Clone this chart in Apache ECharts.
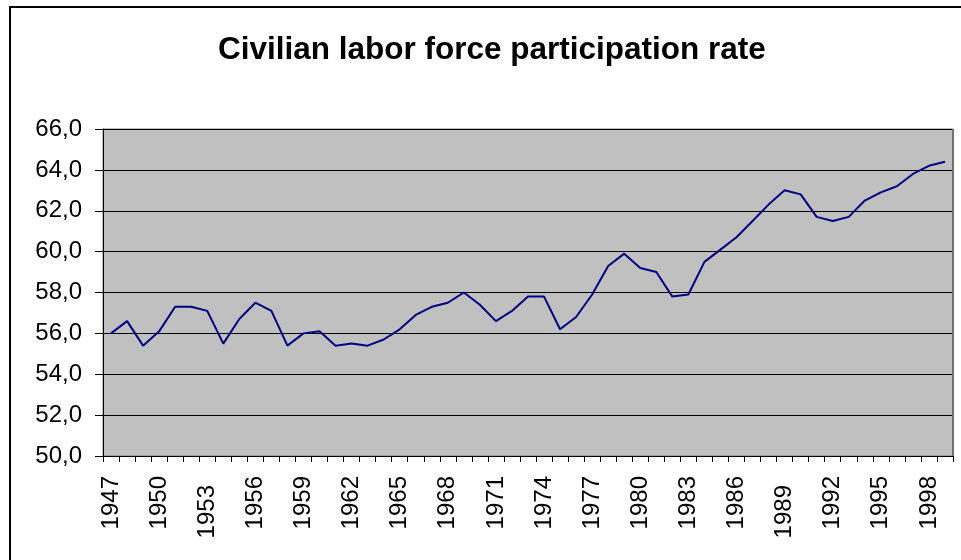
<!DOCTYPE html>
<html>
<head>
<meta charset="UTF-8">
<title>Civilian labor force participation rate</title>
<script src="https://cdn.jsdelivr.net/npm/echarts@6/dist/echarts.min.js"></script>
<style>
  body { margin: 0; padding: 0; background: #fff; }
  #chart { width: 961px; height: 560px; }
</style>
</head>
<body>
<div id="chart"></div>
<script>
// data
var years = ['1947','1948','1949','1950','1951','1952','1953','1954','1955','1956',
             '1957','1958','1959','1960','1961','1962','1963','1964','1965','1966',
             '1967','1968','1969','1970','1971','1972','1973','1974','1975','1976',
             '1977','1978','1979','1980','1981','1982','1983','1984','1985','1986',
             '1987','1988','1989','1990','1991','1992','1993','1994','1995','1996',
             '1997','1998','1999'];
var rate = [56.0, 56.6, 55.4, 56.1, 57.3, 57.3, 57.1, 55.5, 56.7, 57.5,
            57.1, 55.4, 56.0, 56.1, 55.4, 55.5, 55.4, 55.7, 56.2, 56.9,
            57.3, 57.5, 58.0, 57.4, 56.6, 57.1, 57.8, 57.8, 56.2, 56.8,
            57.9, 59.3, 59.9, 59.2, 59.0, 57.8, 57.9, 59.5, 60.1, 60.7,
            61.5, 62.3, 63.0, 62.8, 61.7, 61.5, 61.7, 62.5, 62.9, 63.2,
            63.8, 64.2, 64.4];
var yTicks = [50, 52, 54, 56, 58, 60, 62, 64, 66];

var font = 'Liberation Sans, Arial, sans-serif';
var chart = echarts.init(document.getElementById('chart'));

chart.setOption({
    animation: false,
    title: {
        text: 'Civilian labor force participation rate',
        left: 213,
        top: 29,
        textStyle: { fontFamily: font, fontSize: 31.5, fontWeight: 'bold', color: '#000' }
    },
    graphic: [{
        type: 'rect',
        z: -10,
        shape: { x: 10, y: 7, width: 1000, height: 600 },
        style: { fill: 'none', stroke: '#000', lineWidth: 2 }
    }, {
        // darker right edge of the plot area, as in the original
        type: 'line',
        z: 10,
        shape: { x1: 953, y1: 129, x2: 953, y2: 456 },
        style: { stroke: '#707070', lineWidth: 2 }
    }],
    grid: {
        left: 103, top: 129, right: 8, bottom: 104,
        show: true,
        backgroundColor: '#c0c0c0',
        borderColor: '#808080',
        borderWidth: 1
    },
    xAxis: {
        type: 'category',
        data: years,
        boundaryGap: true,
        axisLine: { lineStyle: { color: '#000', width: 1 } },
        axisTick: { show: true, interval: 0, length: 6, lineStyle: { color: '#000' } },
        axisLabel: {
            interval: 2,
            rotate: 90,
            margin: 20,
            fontFamily: font,
            fontSize: 24,
            color: '#000',
            // two labels sit a bit lower in the original
            formatter: function (v) {
                return (v === '1953' || v === '1989') ? '{lo|' + v + '}' : v;
            },
            rich: { lo: { fontFamily: font, fontSize: 24, color: '#000', padding: [0, 9, 0, 0] } }
        },
        splitLine: { show: false }
    },
    yAxis: {
        type: 'value',
        min: yTicks[0],
        max: yTicks[yTicks.length - 1],
        interval: 2,
        axisLine: { show: true, lineStyle: { color: '#000', width: 1 } },
        axisTick: { show: true, length: 8, lineStyle: { color: '#000' } },
        axisLabel: {
            margin: 21,
            fontFamily: font,
            fontSize: 24,
            color: '#000',
            formatter: function (v) { return v.toFixed(1).replace('.', ','); }
        },
        splitLine: { show: true, lineStyle: { color: '#000', width: 1 } }
    },
    series: [{
        type: 'line',
        data: rate,
        showSymbol: false,
        symbol: 'none',
        lineStyle: { color: '#000080', width: 2 },
        itemStyle: { color: '#000080' }
    }]
});
</script>
</body>
</html>
